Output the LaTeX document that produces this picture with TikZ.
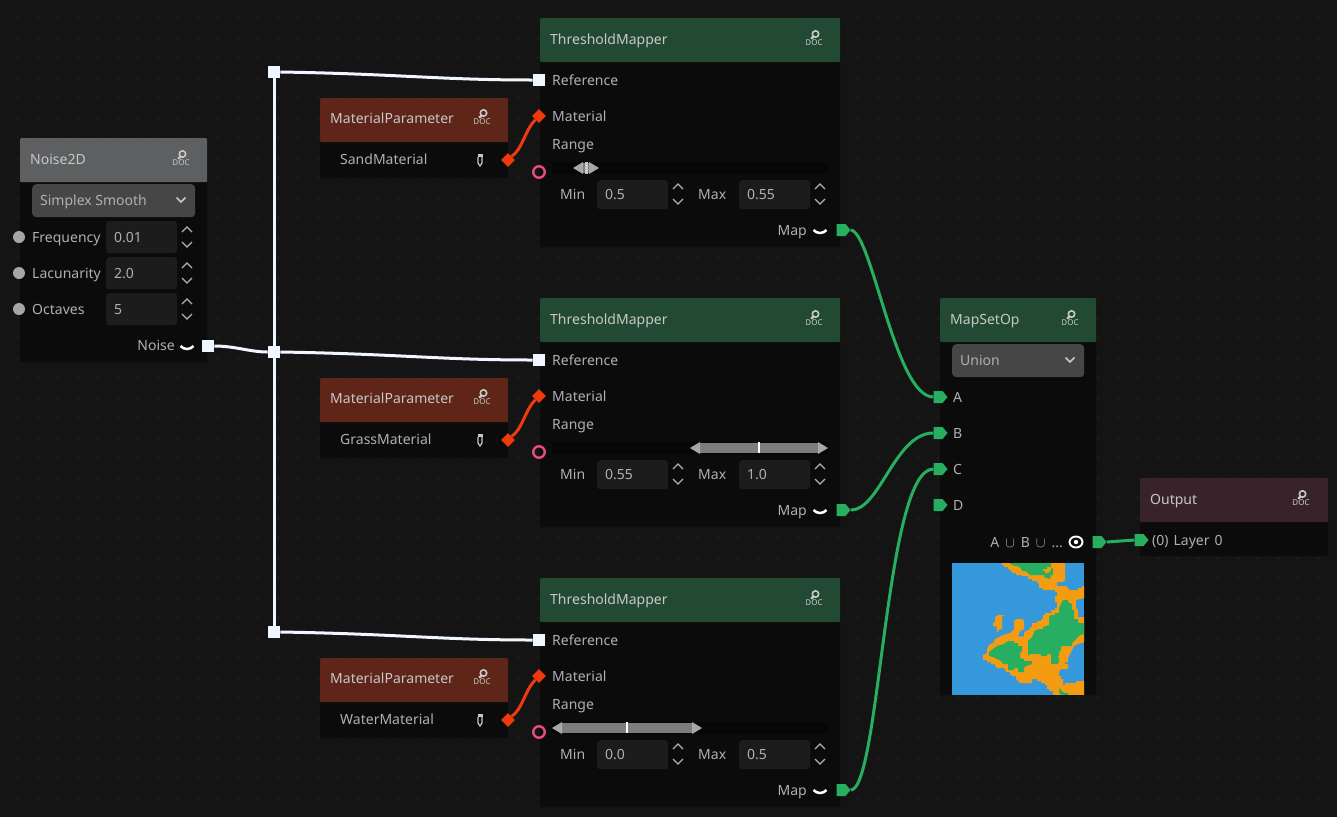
\documentclass[tikz,border=0pt]{standalone}
\usepackage{amssymb,amsmath}
\usepackage{fontspec}
\setmainfont{Noto Sans}
\usepackage{tikz}
\usetikzlibrary{shapes.geometric,shapes.symbols}

\definecolor{bggray}{HTML}{141414}
\definecolor{griddot}{HTML}{1F1F1F}
\definecolor{bodygray}{HTML}{0B0B0B}
\definecolor{txtgray}{HTML}{B0B0B0}
\definecolor{titlegray}{HTML}{C8C8C8}
\definecolor{boxgray}{HTML}{1C1C1C}
\definecolor{dropgray}{HTML}{464646}
\definecolor{headnoise}{HTML}{5E5F60}
\definecolor{headmap}{HTML}{224A33}
\definecolor{headmat}{HTML}{5E2518}
\definecolor{headout}{HTML}{38232A}
\definecolor{wirewhite}{HTML}{F0F6FF}
\definecolor{wiregreen}{HTML}{27AE60}
\definecolor{wirered}{HTML}{F03A0C}
\definecolor{ringpink}{HTML}{E84A85}
\definecolor{sliderbar}{HTML}{7D7D7D}
\definecolor{slidertip}{HTML}{A8A8A8}
\definecolor{slidertrack}{HTML}{060606}
\definecolor{mapblue}{HTML}{3498DB}
\definecolor{maporange}{HTML}{F39C12}

\tikzset{
  panel/.style={fill=bodygray, anchor=north west, inner sep=0, rounded corners=2},
  header/.style={anchor=north west, inner sep=0, rounded corners=1},
  txt/.style={font=\fontsize{14}{16}\selectfont, text=txtgray, inner sep=0, text height=10, text depth=0, anchor=west},
  txtr/.style={txt, anchor=east},
  title/.style={txt, text=titlegray},
  inbox/.style={fill=boxgray, anchor=north west, inner sep=0, rounded corners=3, minimum width=71},
  dropbox/.style={fill=dropgray, anchor=north west, inner sep=0, rounded corners=4, minimum height=33},
  whiteport/.style={fill=wirewhite, inner sep=0, minimum size=12.5},
  redport/.style={diamond, fill=wirered, inner sep=0, minimum size=14},
  greenport/.style={signal, signal to=east, signal pointer angle=100, fill=wiregreen, inner sep=0, minimum width=14, minimum height=12},
  grayport/.style={circle, fill=black!35!white, inner sep=0, minimum size=12},
  ringport/.style={circle, draw=ringpink, line width=2.4, inner sep=0, minimum size=11.5},
  wire/.style={draw=wirewhite, line width=3},
  greenwire/.style={draw=wiregreen, line width=3},
  redwire/.style={draw=wirered, line width=3},
  docicon/.pic={
    \draw[titlegray, line width=1.6] (1.5,-5) circle (3.2);
    \draw[titlegray, line width=2.2] (-0.5,-2.5) -- (-2.8,-0.2);
    \node[font=\bfseries\fontsize{8}{9}\selectfont, text=titlegray, inner sep=0] (-doc) at (0,4) {DOC};
  },
  spinner/.pic={
    \draw[txtgray, line width=1.3] (-5,-5) -- (0,-10) -- (5,-5);
    \draw[txtgray, line width=1.3] (-5,5) -- (0,10) -- (5,5);
  },
  dropchev/.pic={
    \draw[titlegray, line width=1.5] (-4.5,-2.5) -- (0,2) -- (4.5,-2.5);
  },
  cupmark/.pic={
    \draw[white, line width=2.5] (-6.5,-2) .. controls (-3,2) and (3,2) .. (6.5,-2);
  },
  pencil/.pic={
    \fill[titlegray] (-2.5,-6) rectangle (2.5,-3.5);
    \draw[titlegray, line width=1.2] (-2,-3) -- (-2,3) -- (0,6) -- (2,3) -- (2,-3);
  },
  eyemark/.pic={
    \draw[white, line width=1.9] (0,0) ellipse (6.5 and 5.5);
    \fill[white] (0,0) circle (2.2);
  },
}

\begin{document}
\begin{tikzpicture}[x=1pt,y=-1pt]
\useasboundingbox (0,0) rectangle (1337,817);
\fill[bggray] (0,0) rectangle (1337,817);
\foreach \i in {0,...,65} \foreach \j in {0,...,39}
  \fill[griddot] (17+20*\i,17+20*\j) rectangle +(2,2);

% Noise2D
\node[panel, minimum width=187, minimum height=224] (noisepanel) at (20,138) {};
\node[header, fill=headnoise, minimum width=187, minimum height=44] (noisehead) at (20,138) {};
\node[title] (noisetitle) at (30,159) {Noise2D};
\pic (noisedoc) at (181,159) {docicon};
\node[dropbox, minimum width=163] (noisedrop) at (32,184) {};
\node[txt] (noisekind) at (40,200) {Simplex Smooth};
\pic (noisechev) at (181,200) {dropchev};
\node[grayport] (freqport) at (19,237) {};
\node[grayport] (lacport) at (19,273) {};
\node[grayport] (octport) at (19,309) {};
\node[txt] (freqlabel) at (32,237) {Frequency};
\node[txt] (laclabel) at (32,273) {Lacunarity};
\node[txt] (octlabel) at (32,309) {Octaves};
\node[inbox, minimum height=32] (freqbox) at (106,221) {};
\node[inbox, minimum height=32] (lacbox) at (106,257) {};
\node[inbox, minimum height=32] (octbox) at (106,293) {};
\node[txt] (freqval) at (114,237) {0.01};
\node[txt] (lacval) at (114,273) {2.0};
\node[txt] (octval) at (114,309) {5};
\pic (freqspin) at (187,237) {spinner};
\pic (lacspin) at (187,273) {spinner};
\pic (octspin) at (187,309) {spinner};
\node[txtr] (noiselabel) at (175,345) {Noise};
\pic (noisecup) at (187,348) {cupmark};
\node[whiteport] (noiseport) at (208,346) {};

% junctions
\node[whiteport] (juncA) at (274,72) {};
\node[whiteport] (juncB) at (274,352) {};
\node[whiteport] (juncC) at (274,632) {};

% sand
\node[panel, minimum width=188, minimum height=80] (sandpanel) at (320,98) {};
\node[header, fill=headmat, minimum width=188, minimum height=44] (sandhead) at (320,98) {};
\node[title] (sandtitle) at (330,118) {MaterialParameter};
\pic (sanddoc) at (482,118) {docicon};
\node[txt] (sandname) at (340,159) {SandMaterial};
\pic (sandpen) at (480,160) {pencil};
\node[redport] (sandport) at (508,160) {};

\node[panel, minimum width=300, minimum height=229] (mapperA) at (540,18) {};
\node[header, fill=headmap, minimum width=300, minimum height=44] (mapperAhead) at (540,18) {};
\node[title] (mapperAtitle) at (550,39) {ThresholdMapper};
\pic (mapperAdoc) at (814,39) {docicon};
\node[whiteport] (refA) at (539,80) {};
\node[txt] (refAlabel) at (552,80) {Reference};
\node[redport] (matA) at (539,116) {};
\node[txt] (matAlabel) at (552,116) {Material};
\node[txt] (rangeAlabel) at (552,144) {Range};
\node[ringport] (rangeA) at (539,172) {};
\fill[slidertrack, rounded corners=3] (552,162) rectangle (828,174);
\fill[sliderbar] (583,163) rectangle (590,173);
\fill[slidertip] (583,162) -- (573,168) -- (583,174) -- cycle;
\fill[slidertip] (589,162) -- (599,168) -- (589,174) -- cycle;
\fill[titlegray] (584.5,162) rectangle (588,174);
\node[txt] (minAlabel) at (560,194) {Min};
\node[inbox, minimum height=29] (minAbox) at (597,180) {};
\node[txt] (minAval) at (605,194) {0.5};
\pic (minAspin) at (678,194) {spinner};
\node[txt] (maxAlabel) at (698,194) {Max};
\node[inbox, minimum height=29] (maxAbox) at (739,180) {};
\node[txt] (maxAval) at (747,194) {0.55};
\pic (maxAspin) at (820,194) {spinner};
\node[txtr] (mapAlabel) at (807,230) {Map};
\pic (mapAcup) at (820,232) {cupmark};
\node[greenport] (mapA) at (841,230) {};

% grass
\node[panel, minimum width=188, minimum height=80] (grasspanel) at (320,378) {};
\node[header, fill=headmat, minimum width=188, minimum height=44] (grasshead) at (320,378) {};
\node[title] (grasstitle) at (330,398) {MaterialParameter};
\pic (grassdoc) at (482,398) {docicon};
\node[txt] (grassname) at (340,439) {GrassMaterial};
\pic (grasspen) at (480,440) {pencil};
\node[redport] (grassport) at (508,440) {};

\node[panel, minimum width=300, minimum height=229] (mapperB) at (540,298) {};
\node[header, fill=headmap, minimum width=300, minimum height=44] (mapperBhead) at (540,298) {};
\node[title] (mapperBtitle) at (550,319) {ThresholdMapper};
\pic (mapperBdoc) at (814,319) {docicon};
\node[whiteport] (refB) at (539,360) {};
\node[txt] (refBlabel) at (552,360) {Reference};
\node[redport] (matB) at (539,396) {};
\node[txt] (matBlabel) at (552,396) {Material};
\node[txt] (rangeBlabel) at (552,424) {Range};
\node[ringport] (rangeB) at (539,452) {};
\fill[slidertrack, rounded corners=3] (552,442) rectangle (828,454);
\fill[sliderbar] (700,443) rectangle (818,453);
\fill[slidertip] (700,442) -- (690,448) -- (700,454) -- cycle;
\fill[slidertip] (818,442) -- (828,448) -- (818,454) -- cycle;
\fill[white] (758,442) rectangle (759.5,453);
\node[txt] (minBlabel) at (560,474) {Min};
\node[inbox, minimum height=29] (minBbox) at (597,460) {};
\node[txt] (minBval) at (605,474) {0.55};
\pic (minBspin) at (678,474) {spinner};
\node[txt] (maxBlabel) at (698,474) {Max};
\node[inbox, minimum height=29] (maxBbox) at (739,460) {};
\node[txt] (maxBval) at (747,474) {1.0};
\pic (maxBspin) at (820,474) {spinner};
\node[txtr] (mapBlabel) at (807,510) {Map};
\pic (mapBcup) at (820,512) {cupmark};
\node[greenport] (mapB) at (841,510) {};

% water
\node[panel, minimum width=188, minimum height=80] (waterpanel) at (320,658) {};
\node[header, fill=headmat, minimum width=188, minimum height=44] (waterhead) at (320,658) {};
\node[title] (watertitle) at (330,678) {MaterialParameter};
\pic (waterdoc) at (482,678) {docicon};
\node[txt] (watername) at (340,719) {WaterMaterial};
\pic (waterpen) at (480,720) {pencil};
\node[redport] (waterport) at (508,720) {};

\node[panel, minimum width=300, minimum height=229] (mapperC) at (540,578) {};
\node[header, fill=headmap, minimum width=300, minimum height=44] (mapperChead) at (540,578) {};
\node[title] (mapperCtitle) at (550,599) {ThresholdMapper};
\pic (mapperCdoc) at (814,599) {docicon};
\node[whiteport] (refC) at (539,640) {};
\node[txt] (refClabel) at (552,640) {Reference};
\node[redport] (matC) at (539,676) {};
\node[txt] (matClabel) at (552,676) {Material};
\node[txt] (rangeClabel) at (552,704) {Range};
\node[ringport] (rangeC) at (539,732) {};
\fill[slidertrack, rounded corners=3] (552,722) rectangle (828,734);
\fill[sliderbar] (562,723) rectangle (692,733);
\fill[slidertip] (562,722) -- (552,728) -- (562,734) -- cycle;
\fill[slidertip] (692,722) -- (702,728) -- (692,734) -- cycle;
\fill[white] (626,722) rectangle (627.5,733);
\node[txt] (minClabel) at (560,754) {Min};
\node[inbox, minimum height=29] (minCbox) at (597,740) {};
\node[txt] (minCval) at (605,754) {0.0};
\pic (minCspin) at (678,754) {spinner};
\node[txt] (maxClabel) at (698,754) {Max};
\node[inbox, minimum height=29] (maxCbox) at (739,740) {};
\node[txt] (maxCval) at (747,754) {0.5};
\pic (maxCspin) at (820,754) {spinner};
\node[txtr] (mapClabel) at (807,790) {Map};
\pic (mapCcup) at (820,792) {cupmark};
\node[greenport] (mapC) at (841,790) {};

% MapSetOp
\node[panel, minimum width=156, minimum height=397] (setpanel) at (940,298) {};
\node[header, fill=headmap, minimum width=156, minimum height=44] (sethead) at (940,298) {};
\node[title] (settitle) at (950,319) {MapSetOp};
\pic (setdoc) at (1070,319) {docicon};
\node[dropbox, minimum width=132] (setdrop) at (952,344) {};
\node[txt] (setkind) at (960,360) {Union};
\pic (setchev) at (1070,360) {dropchev};
\node[greenport] (inA) at (938,397) {};
\node[greenport] (inB) at (938,433) {};
\node[greenport] (inC) at (938,469) {};
\node[greenport] (inD) at (938,505) {};
\node[txt] (inAlabel) at (953,397) {A};
\node[txt] (inBlabel) at (953,433) {B};
\node[txt] (inClabel) at (953,469) {C};
\node[txt] (inDlabel) at (953,505) {D};
\node[txtr] (setlabel) at (1063,542) {A~\,$\cup$~\,B~\,$\cup$~\,...};
\pic (seteye) at (1076,542) {eyemark};
\node[greenport] (setport) at (1097,542) {};

% preview
\begin{scope}[shift={(950,561)}, x=0.3333pt, y=-0.3333pt]
\clip (6,6) rectangle (402,402);
\fill[mapblue] (6,6) rectangle (402,402);
\fill[maporange] (155,6) -- (345,6) -- (345,57) -- (339,63) -- (321,63) -- (321,75) -- (351,75) -- (351,81) -- (357,81) -- (357,87)
  -- (384,87) -- (384,81) -- (396,81) -- (396,75) -- (402,75) -- (402,111) -- (378,117) -- (378,141) -- (384,147) -- (384,168)
  -- (402,168) -- (402,244) -- (384,249) -- (372,255) -- (366,267) -- (360,279) -- (354,291) -- (354,303) -- (345,303) -- (345,309)
  -- (354,309) -- (354,324) -- (333,324) -- (327,333) -- (327,345) -- (333,345) -- (333,354) -- (339,354) -- (339,372) -- (345,372)
  -- (345,366) -- (378,366) -- (378,360) -- (402,360) -- (402,402) -- (309,402) -- (309,390) -- (297,390) -- (297,384) -- (291,384)
  -- (291,372) -- (285,372) -- (285,366) -- (273,366) -- (273,360) -- (261,360) -- (261,354) -- (246,354) -- (246,366) -- (210,366)
  -- (204,360) -- (198,354) -- (198,345) -- (186,345) -- (180,339) -- (180,333) -- (168,333) -- (162,321) -- (141,321) -- (135,315)
  -- (135,309) -- (123,309) -- (123,303) -- (111,303) -- (111,297) -- (99,297) -- (99,282) -- (111,276) -- (111,264) -- (117,252)
  -- (129,246) -- (135,234) -- (147,228) -- (159,222) -- (180,216) -- (186,210) -- (192,204) -- (192,180) -- (198,174) -- (216,174)
  -- (222,180) -- (222,204) -- (210,210) -- (204,226) -- (222,226) -- (222,214) -- (240,204) -- (240,198) -- (246,198) -- (246,186)
  -- (261,186) -- (261,180) -- (273,180) -- (273,174) -- (279,174) -- (279,162) -- (285,162) -- (285,156) -- (303,156) -- (303,147)
  -- (315,147) -- (315,141) -- (321,141) -- (321,123) -- (315,123) -- (315,105) -- (321,105) -- (321,93) -- (315,93) -- (315,87)
  -- (279,87) -- (279,81) -- (267,81) -- (267,66) -- (261,66) -- (261,60) -- (246,60) -- (246,54) -- (234,54) -- (234,45) -- (216,45)
  -- (216,42) -- (198,42) -- (198,36) -- (186,36) -- (186,30) -- (180,30) -- (180,24) -- (174,24) -- (174,18) -- (162,18) -- (162,12)
  -- (155,12) -- cycle;
\fill[maporange] (145,162) -- (162,162) -- (156,168) -- (156,204) -- (145,207) -- (145,213) -- (140,213) -- (140,196) -- (129,196)
  -- (129,184) -- (135,184) -- (135,168) -- cycle;
\fill[wiregreen] (180,6) -- (303,6) -- (303,18) -- (309,24) -- (309,42) -- (303,42) -- (300,54) -- (282,48) -- (282,42) -- (240,42)
  -- (228,30) -- (216,30) -- (210,18) -- (186,12) -- cycle;
\fill[maporange] (279,24) -- (291,24) -- (291,18) -- (303,18) -- (303,30) -- (297,30) -- (297,36) -- (285,36) -- (285,30) -- (279,30) -- cycle;
\fill[wiregreen] (339,117) -- (354,117) -- (354,123) -- (366,129) -- (366,147) -- (372,147) -- (372,174) -- (384,174) -- (384,186)
  -- (402,186) -- (402,219) -- (390,222) -- (378,234) -- (366,246) -- (366,255) -- (333,255) -- (333,267) -- (327,273) -- (327,285)
  -- (321,285) -- (327,291) -- (327,303) -- (321,309) -- (303,309) -- (303,279) -- (291,279) -- (291,285) -- (273,285) -- (273,279)
  -- (240,279) -- (234,284) -- (234,240) -- (240,234) -- (246,228) -- (252,216) -- (252,210) -- (267,204) -- (279,204) -- (279,198)
  -- (297,192) -- (297,168) -- (303,162) -- (315,162) -- (315,156) -- (327,156) -- (327,141) -- (333,129) -- cycle;
\fill[wiregreen] (117,273) -- (129,264) -- (141,255) -- (162,249) -- (174,240) -- (192,240) -- (192,246) -- (204,246) -- (204,255)
  -- (216,255) -- (216,270) -- (210,276) -- (210,291) -- (222,294) -- (222,300) -- (246,300) -- (246,309) -- (228,315) -- (222,321)
  -- (222,333) -- (204,333) -- (204,321) -- (192,321) -- (192,327) -- (174,327) -- (174,309) -- (159,309) -- (153,300) -- (141,294)
  -- (129,288) -- (117,285) -- cycle;
\fill[wiregreen] (327,384) -- (333,384) -- (333,390) -- (345,396) -- (354,396) -- (354,402) -- (333,402) -- (327,396) -- cycle;
\end{scope}

% Output
\node[panel, minimum width=188, minimum height=78] (outpanel) at (1140,478) {};
\node[header, fill=headout, minimum width=188, minimum height=44] (outhead) at (1140,478) {};
\node[title] (outtitle) at (1150,499) {Output};
\pic (outdoc) at (1301,499) {docicon};
\node[greenport] (layerport) at (1139,540) {};
\node[txt] (layerlabel) at (1152,540) {(0)\hspace{5pt}Layer\hspace{5pt}0};

% wires
\draw[wire] (juncA) -- (juncC);
\draw[wire] (noiseport.east) .. controls (235,346) and (250,352) .. (juncB.west);
\draw[wire] (juncA.east) .. controls (400,74) and (440,80) .. (refA.west);
\draw[wire] (juncB.east) .. controls (400,354) and (440,360) .. (refB.west);
\draw[wire] (juncC.east) .. controls (400,634) and (440,640) .. (refC.west);
\draw[redwire] (sandport.north east) .. controls (522,150) and (525,130) .. (matA.south west);
\draw[redwire] (grassport.north east) .. controls (522,430) and (525,410) .. (matB.south west);
\draw[redwire] (waterport.north east) .. controls (522,710) and (525,690) .. (matC.south west);
\draw[greenwire] (mapA.east) .. controls (872,232) and (895,397) .. (inA.west);
\draw[greenwire] (mapB.east) .. controls (880,510) and (895,433) .. (inB.west);
\draw[greenwire] (mapC.east) .. controls (880,790) and (885,469) .. (inC.west);
\draw[greenwire] (setport.east) -- (layerport.west);
\end{tikzpicture}
\end{document}
